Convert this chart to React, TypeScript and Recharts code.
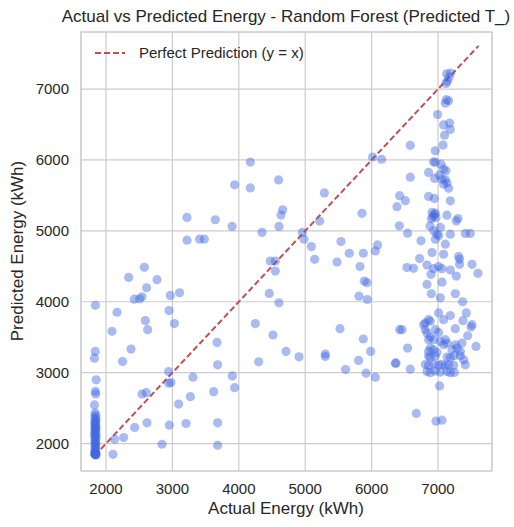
import { ScatterChart, Scatter, XAxis, YAxis, CartesianGrid, ReferenceLine, ReferenceArea } from "recharts";

const FONT = '"Liberation Sans", Arial, sans-serif';
const TEXT = "#262626";
const GRID = "#cccccc";
const POINT = "#4169e1";
const LINE = "#c44e52";

const xTicks = [2000, 3000, 4000, 5000, 6000, 7000];
const yTicks = [2000, 3000, 4000, 5000, 6000, 7000];
const xDomain = [1623, 7813];
const yDomain = [1613, 7805];
// y = x reference, from min to max of the data
const perfectRange = [1830, 7610];

// [actual, predicted]
const lowEndPoints: [number, number][] = [
  [1840, 3950], [1838, 3300], [1825, 3205], [1852, 2900], [1840, 2735], [1845, 2700], [1826, 2545],
  [1835, 2430], [1845, 2400], [1830, 2375], [1850, 2350], [1838, 2330], [1842, 2310], [1828, 2290],
  [1848, 2275], [1836, 2255], [1844, 2240], [1832, 2220], [1850, 2205], [1840, 2190], [1830, 2170],
  [1846, 2155], [1838, 2140], [1826, 2120], [1852, 2105], [1840, 2090], [1834, 2070], [1846, 2050],
  [1838, 2030], [1830, 2010], [1848, 1995], [1840, 1975], [1834, 1955], [1844, 1935], [1838, 1915],
  [1830, 1895], [1848, 1880], [1840, 1865], [1832, 1855], [1846, 1850], [1838, 1845], [1842, 1840],
  [1850, 1842], [1830, 1848],
];

const midPoints: [number, number][] = [
  [2090, 3583], [2592, 3734], [2627, 3607], [3029, 3692], [2376, 3333], [2250, 3157], [3671, 3427],
  [2943, 3015], [2943, 2851], [2978, 2860], [3310, 2936], [2542, 2699], [2607, 2718], [3094, 2557],
  [3270, 2661], [3621, 2732], [3681, 3110], [2617, 2292], [2431, 2227], [2953, 2259], [3205, 2283],
  [3681, 2292], [2130, 2061], [2265, 2085], [2105, 1848], [2843, 1990], [3681, 1976],
  [3902, 2954], [3937, 2788], [4248, 3692], [4515, 3531], [4298, 3153], [4711, 3299], [4907, 3224],
  [5302, 3262], [5302, 3228], [5524, 3621], [5875, 3475], [5985, 3299], [5804, 3172], [5608, 3044],
  [5916, 2993], [6056, 2936], [6367, 3134], [6422, 3607],
  [3220, 5190], [3646, 5157], [3220, 4869], [3410, 4883], [3480, 4883], [2577, 4486], [2341, 4344],
  [2768, 4311], [2611, 4198], [2426, 4036], [2506, 4042], [2542, 4070], [2968, 4089], [3108, 4127],
  [2166, 3852], [2949, 3876],
  [4173, 5970], [3937, 5649], [4173, 5606], [4599, 5719], [5288, 5535], [3898, 5063], [4660, 5298],
  [4635, 5223], [4605, 5063], [5217, 5138], [5855, 5247], [6015, 6041], [6150, 6010], [4349, 4978],
  [4956, 4978], [4982, 4883], [5092, 4779], [5142, 4599], [5539, 4850], [5664, 4684], [5875, 4684],
  [6090, 4802], [6056, 4717], [4474, 4575], [4550, 4575], [4550, 4433], [5479, 4561], [5825, 4496],
  [5890, 4292], [5930, 4269], [4459, 4117], [4605, 3985], [5810, 4079], [5935, 4032],
  [6583, 6206], [6583, 5758], [6422, 5497], [6508, 5426], [6382, 5341], [6417, 5071], [6542, 4968],
  [6744, 4859], [6723, 4609], [6533, 4482], [6632, 4472], [6458, 3607], [6542, 3347], [6357, 3134],
  [6583, 3049], [6673, 2425],
];

const highEndPoints: [number, number][] = [
  [7130, 7215], [7190, 7225], [7165, 7165], [7140, 7110], [7120, 7080],
  [7125, 6850], [7160, 6835], [7110, 6800], [6994, 6640], [7084, 6495], [7175, 6520], [7185, 6430],
  [7099, 6350], [7075, 6210], [6959, 6130], [6933, 5975], [6959, 5965], [7045, 5940], [7084, 5870],
  [7120, 5848], [6858, 5825], [6949, 5740], [7020, 5786], [7060, 5730], [7110, 5720], [7084, 5660],
  [7135, 5674], [7160, 5600], [6858, 5486], [6944, 5458], [7185, 5424],
  [6910, 5260], [6940, 5230], [6960, 5250], [6925, 5200], [6900, 5170], [6970, 5190],
  [7135, 5221], [7300, 5174], [7275, 5140],
  [6880, 5070], [6935, 5000], [6985, 4954], [6960, 4883], [7010, 4930], [7035, 5049], [7185, 4954],
  [7411, 4964], [7486, 4964], [7110, 4812], [6910, 4694], [7084, 4670], [7310, 4637],
  [7325, 4599], [6834, 4518], [6933, 4467], [7009, 4496], [7060, 4467], [7185, 4448], [7325, 4528],
  [7512, 4528], [7602, 4401], [6895, 4387], [7060, 4277], [7275, 4362], [6834, 4245], [6899, 4113],
  [7035, 4056], [7260, 4113], [7370, 4000],
  [7009, 3843], [7185, 3805], [7426, 3843], [7376, 3734], [7512, 3677], [7497, 3645], [6858, 3748],
  [6809, 3702], [6783, 3677], [6884, 3724], [7084, 3748], [7260, 3621], [6809, 3607], [6834, 3560],
  [6959, 3607], [7009, 3568], [6884, 3503], [6934, 3465], [6858, 3465], [7446, 3521], [7035, 3441],
  [7110, 3465], [7135, 3418], [7084, 3394], [7260, 3394], [7361, 3418], [7572, 3370],
  [6884, 3347], [6934, 3323], [6858, 3299], [6985, 3285], [7210, 3323], [7286, 3347], [7336, 3299],
  [6858, 3230], [6884, 3215], [6959, 3235], [7135, 3220], [7185, 3210], [7245, 3240], [7336, 3238],
  [7386, 3181],
  [6809, 3115], [6858, 3100], [6934, 3120], [7009, 3105], [7060, 3118], [7110, 3098], [7160, 3112],
  [7235, 3104], [7411, 3110],
  [6834, 3015], [6884, 3000], [6959, 3022], [7035, 3008], [7135, 3018], [7185, 2998], [7245, 3004],
  [7024, 2813], [6970, 2316], [7060, 2330],
];

const points = [...lowEndPoints, ...midPoints, ...highEndPoints].map(([actual, predicted]) => ({
  actual,
  predicted,
}));

function Dot(props: { cx?: number; cy?: number }) {
  const { cx, cy } = props;
  if (cx == null || cy == null) return null;
  return <circle cx={cx} cy={cy} r={4.6} fill={POINT} fillOpacity={0.45} />;
}

export default function App() {
  return (
    <div style={{ position: "absolute", left: 0, top: 0, width: 514, height: 527, fontFamily: FONT, color: TEXT }}>
      <ScatterChart width={514} height={527} margin={{ top: 32, right: 22, bottom: 0, left: 0 }}>
        <CartesianGrid stroke={GRID} strokeWidth={1.2} />
        <ReferenceArea
          x1={xDomain[0]}
          x2={xDomain[1]}
          y1={yDomain[0]}
          y2={yDomain[1]}
          fill="none"
          stroke={GRID}
          strokeWidth={1.2}
          fillOpacity={0}
        />
        <XAxis
          type="number"
          dataKey="actual"
          domain={xDomain}
          allowDataOverflow
          ticks={xTicks}
          height={56}
          axisLine={false}
          tickLine={false}
          tickMargin={6}
          tick={{ fontSize: 15, fill: TEXT, fontFamily: FONT }}
        />
        <YAxis
          type="number"
          dataKey="predicted"
          domain={yDomain}
          allowDataOverflow
          ticks={yTicks}
          width={81}
          axisLine={false}
          tickLine={false}
          tickMargin={6}
          tick={{ fontSize: 15, fill: TEXT, fontFamily: FONT }}
        />
        <Scatter data={points} shape={<Dot />} isAnimationActive={false} />
        <ReferenceLine
          segment={[
            { x: perfectRange[0], y: perfectRange[0] },
            { x: perfectRange[1], y: perfectRange[1] },
          ]}
          stroke={LINE}
          strokeWidth={2}
          strokeDasharray="6 3"
        />
      </ScatterChart>

      <div
        style={{
          position: "absolute",
          left: 36,
          top: 7,
          width: 500,
          textAlign: "center",
          fontSize: 17,
          whiteSpace: "nowrap",
        }}
      >
        Actual vs Predicted Energy - Random Forest (Predicted T_)
      </div>

      <div style={{ position: "absolute", left: 94, top: 44, display: "flex", alignItems: "center" }}>
        <svg width={32} height={16}>
          <line x1={1} y1={8} x2={31} y2={8} stroke={LINE} strokeWidth={2} strokeDasharray="6 3" />
        </svg>
        <span style={{ marginLeft: 13, fontSize: 15 }}>Perfect Prediction (y = x)</span>
      </div>

      <div
        style={{
          position: "absolute",
          left: 136,
          top: 499,
          width: 300,
          textAlign: "center",
          fontSize: 17,
          whiteSpace: "nowrap",
        }}
      >
        Actual Energy (kWh)
      </div>

      <div
        style={{
          position: "absolute",
          left: -102,
          top: 241,
          width: 240,
          height: 20,
          lineHeight: "20px",
          textAlign: "center",
          fontSize: 17,
          whiteSpace: "nowrap",
          transform: "rotate(-90deg)",
        }}
      >
        Predicted Energy (kWh)
      </div>
    </div>
  );
}
